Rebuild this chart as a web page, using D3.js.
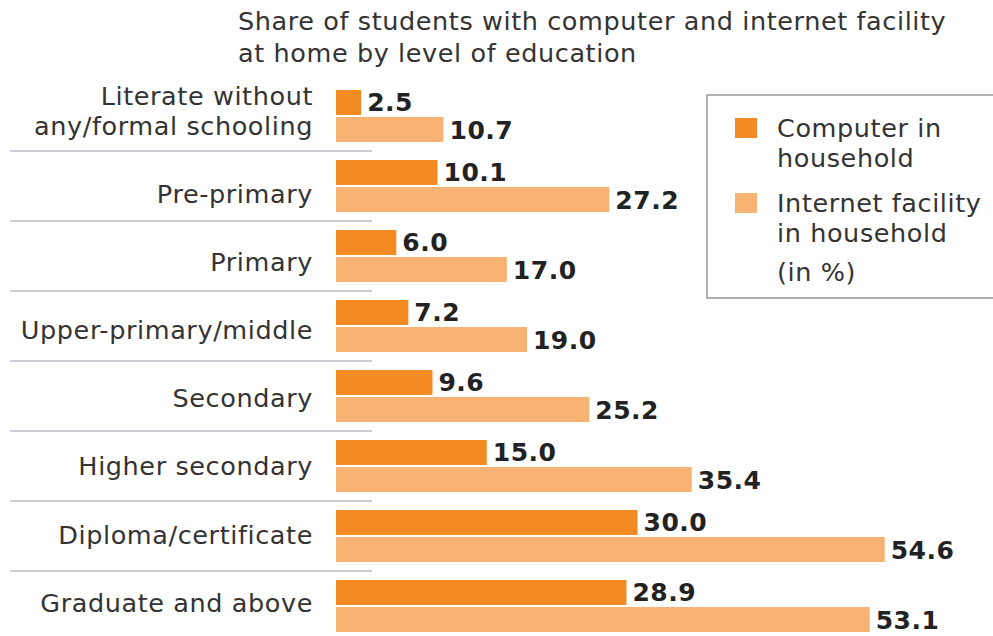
<!DOCTYPE html>
<html>
<head>
<meta charset="utf-8">
<script src="https://cdn.jsdelivr.net/npm/d3@7"></script>
<style>
  html, body { margin: 0; padding: 0; background: #fff; }
  svg { display: block; }
</style>
</head>
<body>
<svg id="chart" width="993" height="636"></svg>
<script>
const categories = [
  ["Literate without", "any/formal schooling"],
  ["Pre-primary"],
  ["Primary"],
  ["Upper-primary/middle"],
  ["Secondary"],
  ["Higher secondary"],
  ["Diploma/certificate"],
  ["Graduate and above"]
];
const computerValues = [2.5, 10.1, 6.0, 7.2, 9.6, 15.0, 30.0, 28.9];
const internetValues = [10.7, 27.2, 17.0, 19.0, 25.2, 35.4, 54.6, 53.1];
const seriesNames = ["Computer in household", "Internet facility in household"];
const legendLines = [["Computer in", "household"], ["Internet facility", "in household"]];
const titleLines = ["Share of students with computer and internet facility", "at home by level of education"];
const unitNote = "(in %)";

const colors = ["#F48A22", "#F8B274"];
const textColor = "#333333";
const labelFont = "'DejaVu Sans', sans-serif";
const fs = 25.5;
const ls = 0.6;

const svg = d3.select("#chart");

const keys = categories.map((c, i) => i);
const y = d3.scaleBand().domain(keys).range([81, 641]).paddingInner(18 / 70).paddingOuter(9 / 70);
const ySub = d3.scaleBand().domain([0, 1]).range([0, y.bandwidth()]).paddingInner(4 / 52);
const x = d3.scaleLinear().domain([0, 60]).range([336, 336 + 603]);
// label anchor positions (last line of each label)
const yLabel = d3.scaleLinear().domain([1, 7]).range([193.5, 602.5]);

// title
svg.append("g").selectAll("text").data(titleLines).join("text")
  .attr("x", 238).attr("y", (d, i) => 30 + i * 32)
  .attr("font-family", labelFont).attr("font-size", fs).attr("letter-spacing", ls)
  .attr("fill", textColor).text(d => d);

// separators
svg.append("g").selectAll("line").data(keys.slice(0, -1)).join("line")
  .attr("x1", 10).attr("x2", 372)
  .attr("y1", d => y(d) + y.bandwidth() + y.step() * (18 / 70) / 2)
  .attr("y2", d => y(d) + y.bandwidth() + y.step() * (18 / 70) / 2)
  .attr("stroke", "#b8bcc4").attr("stroke-width", 1.5);

// category labels
const catG = svg.append("g");
categories.forEach((lines, i) => {
  const cy = yLabel(i);
  const lh = 30;
  const t = catG.append("text")
    .attr("text-anchor", "end")
    .attr("font-family", labelFont).attr("font-size", fs).attr("letter-spacing", ls)
    .attr("fill", textColor);
  lines.forEach((ln, j) => {
    t.append("tspan").attr("x", 313)
      .attr("y", cy - (lines.length - 1 - j) * lh)
      .attr("dy", "0.36em").text(ln);
  });
});

// bars
const series = [computerValues, internetValues];
series.forEach((vals, s) => {
  const g = svg.append("g");
  g.selectAll("rect").data(vals).join("rect")
    .attr("x", x(0))
    .attr("y", (d, i) => y(i) + ySub(s))
    .attr("width", d => x(d) - x(0))
    .attr("height", ySub.bandwidth())
    .attr("fill", colors[s]);
  g.selectAll("text").data(vals).join("text")
    .attr("x", d => x(d) + 6)
    .attr("y", (d, i) => y(i) + ySub(s) + ySub.bandwidth() / 2)
    .attr("dy", "0.36em")
    .attr("font-family", "'DejaVu Sans', sans-serif")
    .attr("font-weight", "bold").attr("font-size", 25)
    .attr("letter-spacing", 0.5)
    .attr("fill", "#222").text(d => d.toFixed(1));
});

// legend
const lg = svg.append("g");
lg.append("rect").attr("x", 707).attr("y", 95).attr("width", 300).attr("height", 203)
  .attr("fill", "#fff").attr("stroke", "#999").attr("stroke-width", 1.5);
legendLines.forEach((lines, i) => {
  const top = 118 + i * 75;
  lg.append("rect").attr("x", 735).attr("y", top).attr("width", 22).attr("height", 20)
    .attr("fill", colors[i]);
  lg.append("g").selectAll("text").data(lines).join("text")
    .attr("x", 777).attr("y", (d, j) => top + 19 + j * 30)
    .attr("font-family", labelFont).attr("font-size", fs).attr("letter-spacing", ls)
    .attr("fill", textColor).text(d => d);
});
lg.append("text").attr("x", 777).attr("y", 281)
  .attr("font-family", labelFont).attr("font-size", fs).attr("letter-spacing", ls)
  .attr("fill", textColor).text(unitNote);
</script>
</body>
</html>
